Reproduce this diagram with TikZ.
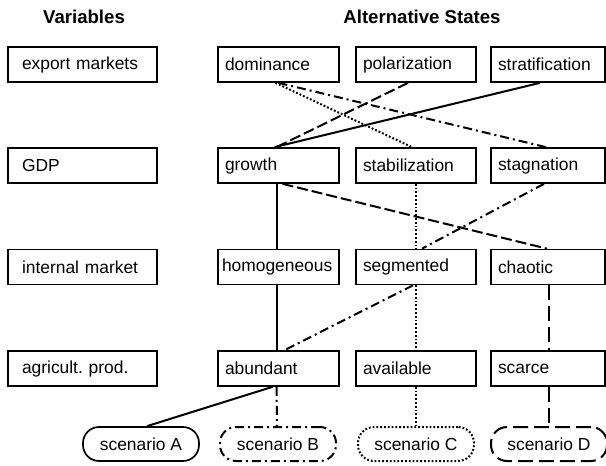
\documentclass[tikz,border=0pt]{standalone}
\usepackage{fontspec}
\setmainfont{Liberation Sans}
\frenchspacing
\begin{document}
\begin{tikzpicture}[x=1pt,y=-1pt,
  txt/.style={font=\fontsize{17.4}{20}\selectfont},
  head/.style={font=\fontsize{18.6}{22}\selectfont\bfseries},
  varbox/.style={txt, draw, line width=1.7pt, minimum height=35pt,
    inner xsep=14pt, text width=121pt, align=left},
  statebox/.style={txt, draw, line width=1.7pt, minimum height=35pt,
    inner xsep=7pt, text width=#1, align=left},
  statebox/.default=107pt,
  scenbox/.style={txt, draw, line width=1.7pt, minimum height=34pt,
    minimum width=116pt, rounded corners=16pt},
  link/.style={line width=2pt},
  longdash/.style={link, dash pattern=on 11pt off 4pt},
  dashdot/.style={link, dash pattern=on 9pt off 4pt on 2pt off 4pt},
  dots/.style={link, dash pattern=on 1.8pt off 2pt},
  wideDash/.style={link, dash pattern=on 15pt off 6pt}]
\useasboundingbox (0,0) rectangle (606,466);

% column headings
\node[head] (hvar) at (84,17) {Variables};
\node[head] (hstate) at (422,17) {Alternative States};

% variables
\node[varbox] (v1) at (82.5,64.5) {export markets};
\node[varbox] (v2) at (82.5,165.5) {GDP};
\node[varbox] (v3) at (82.5,267) {internal market};
\node[varbox] (v4) at (82.5,368.5) {agricult. prod.};

% alternative states, row by row
\node[statebox] (dominance) at (278.5,64.5) {dominance};
\node[statebox=106pt] (polarization) at (416,64.5) {polarization};
\node[statebox=100pt] (stratification) at (548,64.5) {stratification};

\node[statebox] (growth) at (278.5,165.5) {growth};
\node[statebox=106pt] (stabilization) at (416,165.5) {stabilization};
\node[statebox=100pt] (stagnation) at (548,165.5) {stagnation};

\node[statebox, inner xsep=4pt, text width=113pt] (homogeneous) at (278.5,267) {homogeneous};
\node[statebox=106pt] (segmented) at (416,267) {segmented};
\node[statebox=100pt] (chaotic) at (548,267) {chaotic};

\node[statebox] (abundant) at (278.5,368.5) {abundant};
\node[statebox=106pt] (available) at (416,368.5) {available};
\node[statebox=100pt] (scarce) at (548,368.5) {scarce};

% scenarios
\node[scenbox] (scA) at (141,444) {scenario A};
\node[scenbox, dashdot] (scB) at (278,444) {scenario B};
\node[scenbox, dots] (scC) at (416,444) {scenario C};
\node[scenbox, wideDash] (scD) at (549,444) {scenario D};

% export markets -> GDP
\draw[dashdot] (dominance.south) -- ([xshift=-2pt]stagnation.north);
\draw[dots] ([xshift=-3pt]dominance.south) -- ([xshift=-4pt]stabilization.north);
\draw[longdash] ([xshift=-8pt]polarization.south) -- ([xshift=-2pt]growth.north);
\draw[link] ([xshift=-8pt]stratification.south) -- ([xshift=-4pt]growth.north);

% GDP -> internal market
\draw[link] ([xshift=-2pt]growth.south) -- ([xshift=-2pt]homogeneous.north);
\draw[longdash] ([xshift=4pt]growth.south) -- ([xshift=-1pt]chaotic.north);
\draw[dots] (stabilization.south) -- (segmented.north);
\draw[dashdot] ([xshift=-4pt]stagnation.south) -- ([xshift=6pt]segmented.north);

% internal market -> agricultural production
\draw[link] ([xshift=-2pt]homogeneous.south) -- ([xshift=-2pt]abundant.north);
\draw[dashdot] ([xshift=-3pt]segmented.south) -- ([xshift=6pt]abundant.north);
\draw[dots] (segmented.south) -- (available.north);
\draw[wideDash] ([xshift=1pt]chaotic.south) -- ([xshift=1pt]scarce.north);

% agricultural production -> scenarios
\draw[link] ([xshift=-6pt]abundant.south) -- ([xshift=6pt]scA.north);
\draw[dashdot] ([xshift=-2pt]abundant.south) -- ([xshift=-1pt]scB.north);
\draw[dots] (available.south) -- (scC.north);
\draw[wideDash] ([xshift=1pt]scarce.south) -- (scD.north);
\end{tikzpicture}
\end{document}
